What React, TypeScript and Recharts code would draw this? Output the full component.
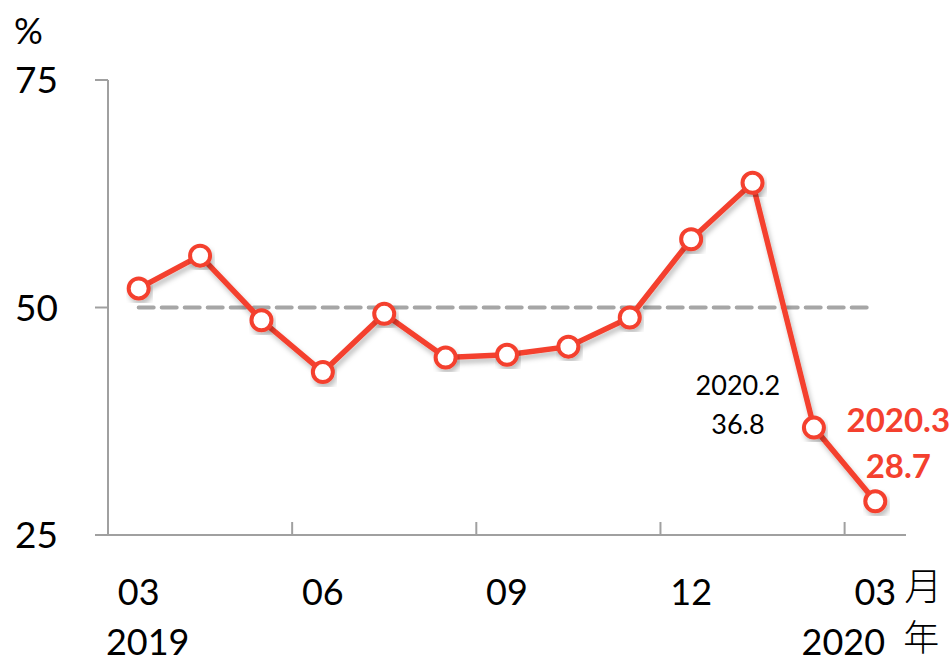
import { LineChart, Line, XAxis, YAxis, ReferenceLine } from "recharts";

// 2019.03 - 2020.03
const months = ["03", "04", "05", "06", "07", "08", "09", "10", "11", "12", "01", "02", "03"];
const values = [52.1, 55.7, 48.6, 42.9, 49.3, 44.5, 44.8, 45.7, 48.9, 57.5, 63.7, 36.8, 28.7];
const callouts = ["", "", "", "", "", "", "", "", "", "", "", "2020.2", "2020.3"];
const yearLabels: Record<number, string> = { 0: "2019", 12: "2020" };
const labelTicks = [0, 3, 6, 9, 12];
const markTicks = [2.5, 5.5, 8.5, 11.5];
const yTicks = [25, 50, 75];
const threshold = 50;

const data = values.map((v, i) => ({ i, month: months[i], value: v }));

const RED = "#f4402e";
const AXIS = "#a0a0a0";
const FONT = "Lato, 'Open Sans', sans-serif";
const CJK = "'Noto Sans CJK JP', sans-serif";

function XTick(props: any) {
  const { x, y, payload } = props;
  const v = payload.value as number;
  if (!Number.isInteger(v)) {
    return <line x1={x} x2={x} y1={y} y2={y - 13} stroke={AXIS} strokeWidth={2} />;
  }
  const year = yearLabels[v];
  const last = v === months.length - 1;
  return (
    <g fontFamily={FONT} fontSize={36} fill="#000">
      <text x={x} y={y + 56} textAnchor="middle" dominantBaseline="central">
        {months[v]}
      </text>
      {year && (
        <text x={last ? x - 32 : x + 9} y={y + 106} textAnchor="middle" dominantBaseline="central">
          {year}
        </text>
      )}
      {last && (
        <>
          <text x={x + 48} y={y + 48} textAnchor="middle" dominantBaseline="central" fontSize={38} fontFamily={CJK} fontWeight={300}>
            月
          </text>
          <text x={x + 46} y={y + 100} textAnchor="middle" dominantBaseline="central" fontSize={36} fontFamily={CJK} fontWeight={300}>
            年
          </text>
        </>
      )}
    </g>
  );
}

function PointLabel(props: any) {
  const { x, y, index, value } = props;
  const name = callouts[index];
  if (!name) return <g />;
  if (index === values.length - 1) {
    return (
      <g fontFamily={FONT} fontSize={33} fontWeight={700} fill={RED} textAnchor="middle">
        <text x={x + 23} y={y - 82} dominantBaseline="central">{name}</text>
        <text x={x + 23} y={y - 36} dominantBaseline="central">{value}</text>
      </g>
    );
  }
  return (
    <g fontFamily={FONT} fontSize={27} fill="#000" textAnchor="middle">
      <text x={x - 76} y={y - 43} dominantBaseline="central">{name}</text>
      <text x={x - 76} y={y - 4} dominantBaseline="central">{value}</text>
    </g>
  );
}

export default function App() {
  return (
    <div style={{ width: 951, height: 664, position: "relative", background: "#fff" }}>
      <style>{"body{margin:0}"}</style>
      <div
        style={{ position: "absolute", left: 14, top: 8, fontFamily: FONT, fontSize: 36, color: "#000" }}
      >
        %
      </div>
      <LineChart width={951} height={664} data={data} margin={{ top: 80, right: 45, bottom: 0, left: 0 }}>
        <defs>
          <filter id="lineShadow" x="-10%" y="-10%" width="130%" height="130%">
            <feDropShadow dx="2" dy="4" stdDeviation="2.5" floodColor="#000" floodOpacity="0.25" />
          </filter>
        </defs>
        <XAxis
          dataKey="i"
          type="number"
          domain={[-0.5, 12.5]}
          ticks={[...labelTicks, ...markTicks].sort((a, b) => a - b)}
          interval={0}
          height={129}
          tickSize={0}
          tickMargin={0}
          tickLine={false}
          axisLine={{ stroke: AXIS, strokeWidth: 2 }}
          tick={<XTick />}
        />
        <YAxis
          domain={[25, 75]}
          ticks={yTicks}
          width={108}
          tickSize={13}
          tickMargin={37}
          tickLine={{ stroke: AXIS, strokeWidth: 2 }}
          axisLine={{ stroke: AXIS, strokeWidth: 2 }}
          tick={{ fontFamily: FONT, fontSize: 37, fill: "#000" }}
        />
        <ReferenceLine
          segment={[
            { x: 0, y: threshold },
            { x: 11.9, y: threshold },
          ]}
          stroke="#a6a6a6"
          strokeWidth={4}
          strokeDasharray="15 8"
          strokeLinecap="round"
        />
        <Line
          dataKey="value"
          stroke={RED}
          strokeWidth={5.5}
          isAnimationActive={false}
          filter="url(#lineShadow)"
          dot={{ r: 10, fill: "#fff", stroke: RED, strokeWidth: 4 }}
          label={<PointLabel />}
        />
      </LineChart>
    </div>
  );
}
